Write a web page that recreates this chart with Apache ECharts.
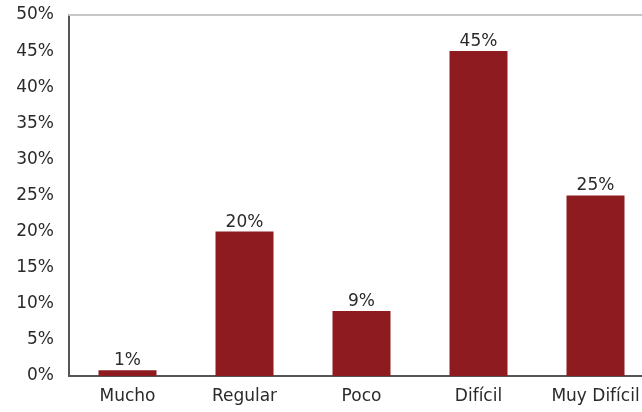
<!DOCTYPE html>
<html><head><meta charset="utf-8">
<script src="https://cdn.jsdelivr.net/npm/echarts@6/dist/echarts.min.js"></script>
<style>html,body{margin:0;padding:0;background:#fff;overflow:hidden}#c{width:654px;height:412px}</style>
</head><body><div id="c"></div>
<script>
const categories = ['Mucho', 'Regular', 'Poco', 'Difícil', 'Muy Difícil'];
const values = [0.8, 20, 9, 45, 25];
const valueLabels = ['1%', '20%', '9%', '45%', '25%'];
const yTicks = [0, 5, 10, 15, 20, 25, 30, 35, 40, 45, 50];

const chart = echarts.init(document.getElementById('c'), null, {renderer: 'canvas'});
const font = 'DejaVu Sans, sans-serif';
chart.setOption({
  animation: false,
  grid: {left: 69, top: 15, right: 0, bottom: 36, containLabel: false},
  xAxis: [{
    type: 'category', data: categories,
    axisLine: {lineStyle: {color: '#555', width: 2}},
    axisTick: {show: false},
    axisLabel: {color: '#2a2a2a', fontSize: 17, fontFamily: font, margin: 12}
  }, {
    type: 'category', data: categories, position: 'top',
    axisLine: {lineStyle: {color: '#c8c8c8', width: 2}},
    axisTick: {show: false}, axisLabel: {show: false}
  }],
  yAxis: {
    type: 'value', min: yTicks[0], max: yTicks[yTicks.length - 1], interval: 5,
    axisLine: {show: true, lineStyle: {color: '#555', width: 2}},
    axisTick: {show: false},
    splitLine: {show: false},
    axisLabel: {color: '#2a2a2a', fontSize: 17, fontFamily: font, margin: 15,
      formatter: v => v + '%'}
  },
  series: [{
    type: 'bar', data: values, barWidth: 58,
    itemStyle: {color: '#8E1B1F'},
    label: {show: true, position: 'top', distance: 1, color: '#2a2a2a', fontSize: 17, fontFamily: font,
      formatter: p => valueLabels[p.dataIndex]}
  }]
});
</script></body></html>
